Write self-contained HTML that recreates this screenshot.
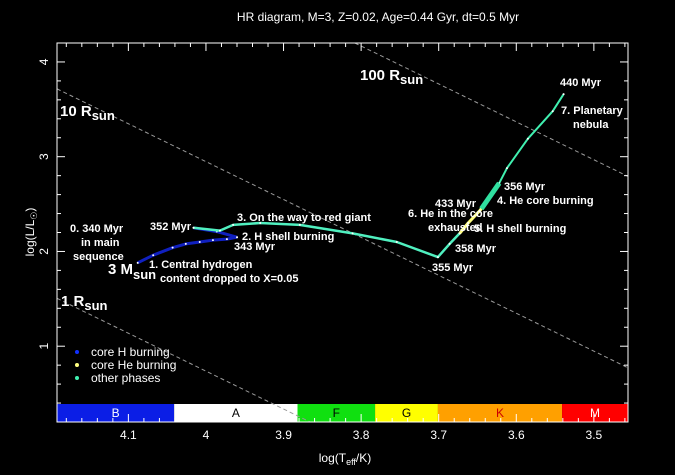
<!DOCTYPE html>
<html><head><meta charset="utf-8"><style>
body{margin:0;background:#000;}
svg{display:block;}
text{font-family:"Liberation Sans",sans-serif;fill:#fff;}
.a{font-weight:bold;font-size:11px;}
</style></head><body>
<svg id="c" width="675" height="475" xmlns="http://www.w3.org/2000/svg">
<rect width="675" height="475" fill="#000"/>
<text x="378" y="21" font-size="12" text-anchor="middle">HR diagram, M=3, Z=0.02, Age=0.44 Gyr, dt=0.5 Myr</text>
<g id="bars"></g>
<g id="radii"></g>
<g id="track"></g>
<g id="axes"></g>
<text x="345" y="462" font-size="12" text-anchor="middle">log(T<tspan font-size="9" dy="3">eff</tspan><tspan dy="-3">/K)</tspan></text>
<text transform="translate(34,232) rotate(-90)" font-size="12" text-anchor="middle">log(L/L<tspan font-size="9" dy="3">☉</tspan><tspan dy="-3">)</tspan></text>
<g>
<text class="a" x="360" y="80" style="font-size:15px">100 R<tspan dy="4" style="font-size:13px">sun</tspan></text>
<text class="a" x="60" y="116" style="font-size:15px">10 R<tspan dy="4" style="font-size:13px">sun</tspan></text>
<text class="a" x="61" y="306" style="font-size:15px">1 R<tspan dy="4" style="font-size:13px">sun</tspan></text>
<text class="a" x="560" y="86">440 Myr</text>
<text class="a" x="561" y="114">7. Planetary</text>
<text class="a" x="573" y="128">nebula</text>
<text class="a" x="504" y="190">356 Myr</text>
<text class="a" x="497" y="204">4. He core burning</text>
<text class="a" x="435" y="207">433 Myr</text>
<text class="a" x="408" y="217">6. He in the core</text>
<text class="a" x="428" y="231">exhausted</text>
<text class="a" x="474" y="232">5. H shell burning</text>
<text class="a" x="455" y="252">358 Myr</text>
<text class="a" x="432" y="271">355 Myr</text>
<text class="a" x="237" y="221">3. On the way to red giant</text>
<text class="a" x="150" y="230">352 Myr</text>
<text class="a" x="242" y="240">2. H shell burning</text>
<text class="a" x="234" y="250">343 Myr</text>
<text class="a" x="70" y="232">0. 340 Myr</text>
<text class="a" x="81" y="246">in main</text>
<text class="a" x="73" y="260">sequence</text>
<text class="a" x="108" y="274" style="font-size:15px">3 M<tspan dy="5" style="font-size:13px">sun</tspan></text>
<text class="a" x="149" y="268">1. Central hydrogen</text>
<text class="a" x="160" y="282">content dropped to X=0.05</text>
</g>
<g>
<circle cx="77" cy="352" r="2" fill="#1030ff"/>
<text x="91" y="356" font-size="12">core H burning</text>
<circle cx="77" cy="365" r="2" fill="#ffff80"/>
<text x="91" y="369" font-size="12">core He burning</text>
<circle cx="77" cy="378" r="2" fill="#40f0b0"/>
<text x="91" y="382" font-size="12">other phases</text>
</g>
</svg>
<script>
var msT=[4.088,4.068,4.043,4.026,4.008,3.991,3.973,3.960];
var msL=[1.88,1.96,2.04,2.08,2.10,2.12,2.13,2.15];
var hookT=[3.960,3.986,4.016];
var hookL=[2.15,2.21,2.25];
var rgT=[4.016,3.982,3.965,3.930,3.879,3.811,3.754,3.701,3.686,3.673];
var rgL=[2.25,2.22,2.28,2.30,2.28,2.19,2.10,1.94,2.08,2.19];
var heT=[3.673,3.662,3.647,3.640];
var heL=[2.19,2.30,2.43,2.51];
var agbT=[3.640,3.622,3.612,3.585,3.553,3.539];
var agbL=[2.51,2.72,2.88,3.19,3.48,3.66];
var radiusK=[-15.263,-13.052,-11.032];
var xTicks=[4.1,4.0,3.9,3.8,3.7,3.6,3.5];
var xTickLabels=["4.1","4","3.9","3.8","3.7","3.6","3.5"];
var yTicks=[1,2,3,4];
var specNames=["B","A","F","G","K","M"];
var specEdges=[4.192,4.041,3.882,3.782,3.701,3.541,3.456];
var specColors=["#0b1ee6","#ffffff","#10e010","#ffff00","#ffa000","#ff0000"];
var specText=["#fff","#000","#000","#000","#c00","#fff"];

var X0=57,X1=628,Y0=43,Y1=422,T0=4.192,T1=3.456,L0=4.2,L1=0.2;
function sx(t){return X0+(T0-t)/(T0-T1)*(X1-X0);}
function sy(l){return Y0+(L0-l)/(L0-L1)*(Y1-Y0);}
var NS="http://www.w3.org/2000/svg";
function mk(tag,attrs,parent){var e=document.createElementNS(NS,tag);for(var k in attrs)e.setAttribute(k,attrs[k]);parent.appendChild(e);return e;}

var bars=document.getElementById('bars');
for(var i=0;i<specNames.length;i++){
 var xa=sx(specEdges[i]),xb=sx(specEdges[i+1]);
 var r=mk('rect',{x:xa,y:404,width:xb-xa,height:18,fill:specColors[i]},bars);
 
 
 var t=mk('text',{x:(xa+xb)/2,y:417,'font-size':12,'text-anchor':'middle',style:'fill:'+specText[i]},bars);
 t.textContent=specNames[i];
 
 
}

var radii=document.getElementById('radii');
for(var i=0;i<radiusK.length;i++){
 var k=radiusK[i];
 var ta=T0,la=4*ta+k; if(la>L0){la=L0;ta=(L0-k)/4;}
 var tb=T1,lb=4*tb+k; if(lb<L1){lb=L1;tb=(L1-k)/4;}
 var ln=mk('line',{x1:sx(ta),y1:sy(la),x2:sx(tb),y2:sy(lb),stroke:'#999','stroke-width':1,'stroke-dasharray':'4,3'},radii);
 
 
}

var track=document.getElementById('track');
function seg(T,L,col,w,name){
 var d='';for(var i=0;i<T.length;i++)d+=(i?'L':'M')+sx(T[i]).toFixed(1)+','+sy(L[i]).toFixed(1);
 var p=mk('path',{d:d,fill:'none',stroke:col,'stroke-width':w,'stroke-linejoin':'round'},track);
 
 
 for(var i=0;i<T.length;i++){
  var c=mk('circle',{cx:sx(T[i]),cy:sy(L[i]),r:1,fill:'#fff'},track);
  
  
 }
}
seg(msT,msL,'#1020c0',3,'main-sequence-track');
seg(hookT,hookL,'#1020c0',3,'hook-track');
seg(rgT,rgL,'#50f0c0',2.5,'red-giant-track');
seg(heT,heL,'#ffff80',3,'he-burning-track');
seg(agbT,agbL,'#40f0b0',2,'agb-track');
var thick=mk('path',{d:'M'+sx(3.645)+','+sy(2.45)+'L'+sx(3.622)+','+sy(2.72),stroke:'#30e0a0','stroke-width':5,fill:'none'},track);



var ax=document.getElementById('axes');
var fr=mk('rect',{x:X0,y:Y0,width:X1-X0,height:Y1-Y0,fill:'none',stroke:'#fff','stroke-width':1},ax);


for(var t=3.46;t<=4.19;t+=0.02){
 var v=Math.round(t*100)/100;var major=Math.abs(v*10-Math.round(v*10))<1e-6;var len=major?8:4;var x=sx(v);
 mk('line',{x1:x,y1:Y0,x2:x,y2:Y0+len,stroke:'#fff'},ax);
 mk('line',{x1:x,y1:Y1,x2:x,y2:Y1-len,stroke:'#fff'},ax);
}
for(var l=0.2;l<=4.2;l+=0.2){
 var v=Math.round(l*10)/10;var major=Math.abs(v-Math.round(v))<1e-6;var len=major?8:4;var y=sy(v);
 mk('line',{x1:X0,y1:y,x2:X0+len,y2:y,stroke:'#fff'},ax);
 mk('line',{x1:X1,y1:y,x2:X1-len,y2:y,stroke:'#fff'},ax);
}
for(var i=0;i<xTicks.length;i++){
 var t=mk('text',{x:sx(xTicks[i]),y:439,'font-size':12,'text-anchor':'middle'},ax);
 t.textContent=xTickLabels[i];
 
 
}
for(var i=0;i<yTicks.length;i++){
 var t=mk('text',{transform:'translate(48,'+sy(yTicks[i])+') rotate(-90)','font-size':12,'text-anchor':'middle'},ax);
 t.textContent=String(yTicks[i]);
 
 
}
</script>
</body></html>
